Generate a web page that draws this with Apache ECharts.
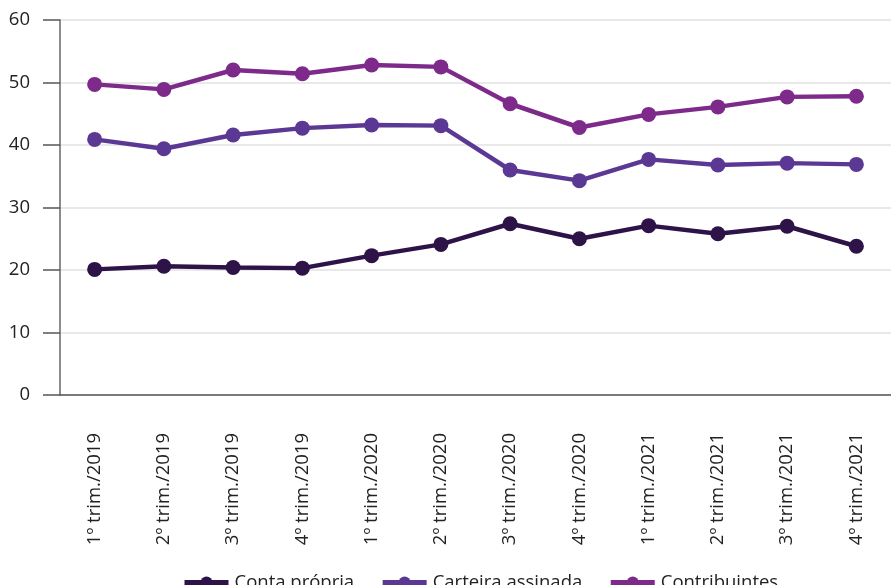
<!DOCTYPE html>
<html>
<head>
<meta charset="utf-8">
<script src="https://cdn.jsdelivr.net/npm/echarts@6/dist/echarts.min.js"></script>
<style>
  html, body { margin: 0; padding: 0; background: #fff; }
  #chart { width: 891px; height: 585px; }
</style>
</head>
<body>
<div id="chart"></div>
<script>
// Quarters shown on the horizontal axis
const quarters = [
  '1º trim./2019', '2º trim./2019', '3º trim./2019', '4º trim./2019',
  '1º trim./2020', '2º trim./2020', '3º trim./2020', '4º trim./2020',
  '1º trim./2021', '2º trim./2021', '3º trim./2021', '4º trim./2021'
];

// Series values (%)
const contaPropria     = [20.1, 20.6, 20.4, 20.3, 22.3, 24.1, 27.4, 25.0, 27.1, 25.8, 27.0, 23.8];
const carteiraAssinada = [40.9, 39.4, 41.6, 42.7, 43.2, 43.1, 36.0, 34.3, 37.7, 36.8, 37.1, 36.9];
const contribuintes    = [49.7, 48.9, 52.0, 51.4, 52.8, 52.5, 46.6, 42.8, 44.9, 46.1, 47.7, 47.8];

const seriesNames = ['Conta própria', 'Carteira assinada', 'Contribuintes'];
const seriesColors = ['#2e1348', '#5a3893', '#7d2a8b'];

const FONT = '"Open Sans", "Noto Sans", sans-serif';

function lineSeries(name, data, color) {
  return {
    name: name,
    type: 'line',
    data: data,
    symbol: 'circle',
    symbolSize: 15,
    lineStyle: { color: color, width: 4.5 },
    itemStyle: { color: color },
    emphasis: { disabled: true },
    animation: false
  };
}

const chart = echarts.init(document.getElementById('chart'));
chart.setOption({
  backgroundColor: '#ffffff',
  animation: false,
  textStyle: { fontFamily: FONT },
  grid: { left: 60, right: 0, top: 20, height: 375, containLabel: false },
  legend: {
    data: seriesNames,
    left: 177,
    top: 568,
    itemWidth: 44,
    itemHeight: 15,
    itemGap: 26,
    lineStyle: { width: 5 },
    textStyle: { fontSize: 18.5, color: '#222', fontFamily: FONT, padding: [0, 0, 0, 1] }
  },
  xAxis: {
    type: 'category',
    data: quarters,
    boundaryGap: true,
    axisLine: { lineStyle: { color: '#555', width: 1.5 } },
    axisTick: { alignWithLabel: true, length: 16, lineStyle: { color: '#555', width: 1.5 } },
    axisLabel: {
      rotate: 90,
      interval: 0,
      margin: 38,
      fontSize: 18.5,
      color: '#222',
      fontFamily: FONT
    },
    splitLine: { show: false }
  },
  yAxis: {
    type: 'value',
    min: 0,
    max: 60,
    interval: 10,
    axisLine: { show: true, lineStyle: { color: '#666', width: 1.5 } },
    axisTick: { show: true, length: 17, lineStyle: { color: '#555', width: 1.5 } },
    axisLabel: { margin: 30, fontSize: 18.5, color: '#222', fontFamily: FONT },
    splitLine: { show: true, lineStyle: { color: '#e2e2e2', width: 1.5 } }
  },
  series: [
    lineSeries(seriesNames[0], contaPropria, seriesColors[0]),
    lineSeries(seriesNames[1], carteiraAssinada, seriesColors[1]),
    lineSeries(seriesNames[2], contribuintes, seriesColors[2])
  ]
});
</script>
</body>
</html>
